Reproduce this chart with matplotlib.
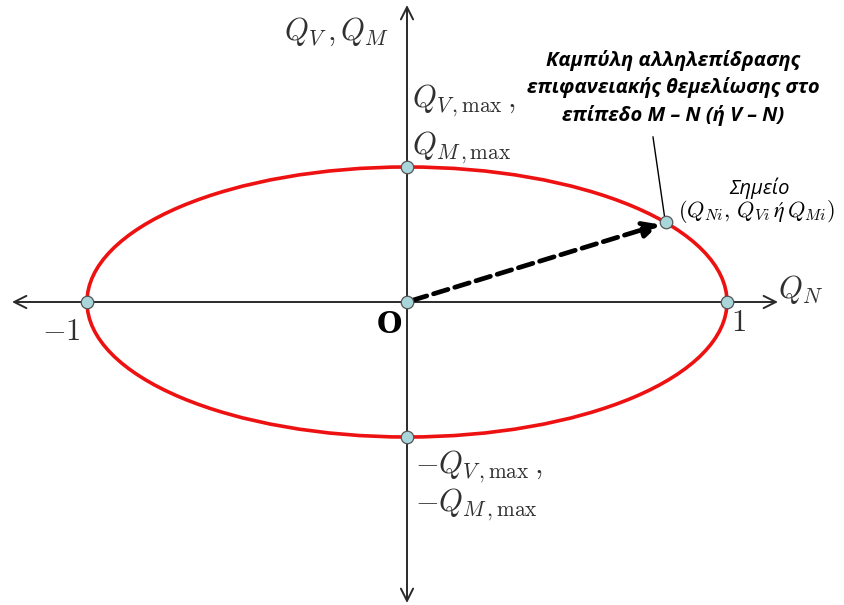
import numpy as np
import matplotlib
matplotlib.use("Agg")
import matplotlib.pyplot as plt
from matplotlib.patches import Ellipse

plt.rcParams['mathtext.fontset'] = 'cm'
plt.rcParams['mathtext.fallback'] = 'stix'

# interaction curve: normalised ellipse  QN^2 + QV^2 = 1
qn_max = 1.0
qv_max = 1.0
# marked points: intercepts, origin and the sample point on the curve
pts_x = [-1.0, 1.0, 0.0, 0.0, 0.0]
pts_y = [0.0, 0.0, 1.0, -1.0, 0.0]
point_i = (0.81, 0.59)

fig = plt.figure(figsize=(8.44, 6.05), dpi=100)
ax = fig.add_axes([0, 0, 1, 1])
# 1 unit in x = 320 px, 1 unit in y = 135 px, origin at (407, 302) px
ax.set_xlim(-407 / 320, (844 - 407) / 320)
ax.set_ylim(-(605 - 302) / 135, 302 / 135)
ax.axis('off')

axis_col = '#2a2a2a'
arrow_kw = dict(arrowstyle='->', lw=1.4, color=axis_col,
                mutation_scale=22, shrinkA=0, shrinkB=0)
# horizontal axis, double arrow
ax.annotate('', xy=(-395 / 320, 0), xytext=(0, 0), arrowprops=arrow_kw)
ax.annotate('', xy=(371 / 320, 0), xytext=(0, 0), arrowprops=arrow_kw)
# vertical axis, double arrow
ax.annotate('', xy=(0, 297 / 135), xytext=(0, 0), arrowprops=arrow_kw)
ax.annotate('', xy=(0, -301 / 135), xytext=(0, 0), arrowprops=arrow_kw)

# the curve
ax.add_patch(Ellipse((0, 0), 2 * qn_max, 2 * qv_max, fill=False,
                     edgecolor='#ee1111', lw=2.6, zorder=3))

# dashed vector from origin to the point
ax.annotate('', xy=point_i, xytext=(0, 0),
            arrowprops=dict(arrowstyle='-|>', lw=3.4, color='black',
                            linestyle=(0, (3.2, 1.5)), mutation_scale=24,
                            shrinkA=4, shrinkB=5),
            zorder=4)

# leader line from the caption to the point
ax.plot([(653 - 407) / 320, point_i[0] - 0.005],
        [(302 - 137) / 135, point_i[1] + 0.04], color='black', lw=1.0, zorder=4)

mk = dict(marker='o', ms=9, mfc='#a9d6da', mec='#555555', mew=0.9, ls='none', zorder=5)
ax.plot(pts_x, pts_y, **mk)
ax.plot([point_i[0]], [point_i[1]], **mk)

tc = '#303030'
fs = 22
ax.text(-18 / 320, 2.0, r'$Q_V\,,Q_M$', color=tc, fontsize=fs, ha='right', va='center')
ax.text(5 / 320, 1.49, r'$Q_{V\,,\rm max}\,,$', color=tc, fontsize=fs, ha='left', va='center')
ax.text(5 / 320, 1.14, r'$Q_{M\,,\rm max}$', color=tc, fontsize=fs, ha='left', va='center')
ax.text(8 / 320, -1.22, r'$-Q_{V\,,\rm max}\,,$', color=tc, fontsize=fs, ha='left', va='center')
ax.text(8 / 320, -1.5, r'$-Q_{M\,,\rm max}$', color=tc, fontsize=fs, ha='left', va='center')
ax.text(-1.02, -0.22, r'$-1$', color=tc, fontsize=fs, ha='right', va='center')
ax.text(1.035, -0.15, r'$1$', color=tc, fontsize=fs, ha='center', va='center')
ax.text(-0.015, -0.17, 'O', color='black', fontsize=21, fontweight='bold',
        family='DejaVu Serif', ha='right', va='center')
ax.text(1.16, 0.09, r'$Q_N$', color=tc, fontsize=fs, ha='left', va='center')

ax.text((673 - 407) / 320, (302 - 88) / 135,
        'Καμπύλη αλληλεπίδρασης\nεπιφανειακής θεμελίωσης στο\nεπίπεδο M – N (ή V – N)',
        family=['Open Sans', 'DejaVu Sans'], fontsize=14.5, fontweight='bold',
        style='italic', ha='center', va='center', linespacing=1.4, color='black')
ax.text((760 - 407) / 320, (302 - 188) / 135, 'Σημείο',
        family=['Open Sans', 'DejaVu Sans'], fontsize=14.5, style='italic',
        ha='center', va='center', color='black')
ax.text((678 - 407) / 320, (302 - 212) / 135,
        r'$(Q_{Ni},\,Q_{Vi}\,\mathit{ή}\,Q_{Mi})$',
        fontsize=16, ha='left', va='center', color='black')

fig.savefig('out.png', dpi=100, facecolor='white')
